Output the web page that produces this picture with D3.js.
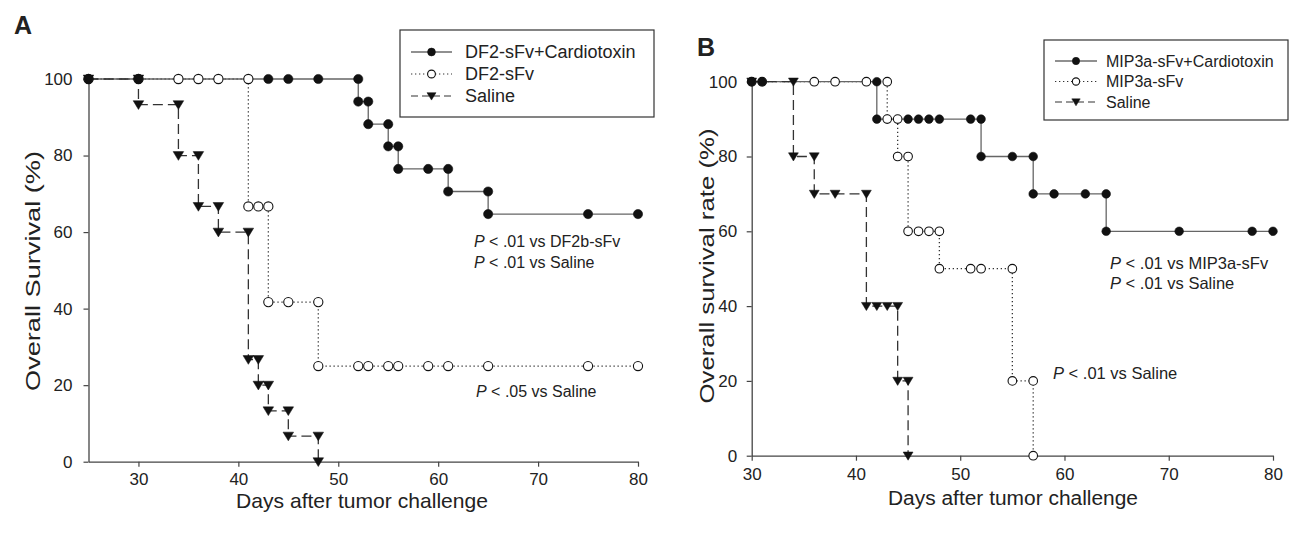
<!DOCTYPE html>
<html>
<head>
<meta charset="utf-8">
<script src="https://cdn.jsdelivr.net/npm/d3@7"></script>
<style>
  html, body { margin: 0; padding: 0; background: #fff; }
  svg { display: block; }
  text { font-family: "Liberation Sans", Arial, Helvetica, sans-serif; fill: #222; }
</style>
</head>
<body>
<svg id="chart" width="1291" height="534"></svg>
<script>
// ---------------- DATA ----------------
// Panel A: [day, survival %] marker points of each Kaplan–Meier step curve
const A_combo = [[25,100],[30,100],[43,100],[45,100],[48,100],[52,100],[52,94.1],[53,94.1],[53,88.2],[55,88.2],[55,82.4],[56,82.4],[56,76.5],[59,76.5],[61,76.5],[61,70.6],[65,70.6],[65,64.7],[75,64.7],[80,64.7]];
const A_sfv   = [[25,100],[30,100],[34,100],[36,100],[38,100],[41,100],[41,66.7],[42,66.7],[43,66.7],[43,41.7],[45,41.7],[48,41.7],[48,25],[52,25],[53,25],[55,25],[56,25],[59,25],[61,25],[65,25],[75,25],[80,25]];
const A_saline= [[25,100],[30,100],[30,93.3],[34,93.3],[34,80],[36,80],[36,66.7],[38,66.7],[38,60],[41,60],[41,26.7],[42,26.7],[42,20],[43,20],[43,13.3],[45,13.3],[45,6.7],[48,6.7],[48,0]];
// Panel B
const B_combo = [[30,100],[31,100],[42,100],[42,90],[45,90],[46,90],[47,90],[48,90],[51,90],[52,90],[52,80],[55,80],[57,80],[57,70],[59,70],[62,70],[64,70],[64,60],[71,60],[78,60],[80,60]];
const B_sfv   = [[30,100],[31,100],[36,100],[38,100],[41,100],[43,100],[43,90],[44,90],[44,80],[45,80],[45,60],[46,60],[47,60],[48,60],[48,50],[51,50],[52,50],[55,50],[55,20],[57,20],[57,0]];
const B_saline= [[30,100],[34,100],[34,80],[36,80],[36,70],[38,70],[41,70],[41,40],[42,40],[43,40],[44,40],[44,20],[45,20],[45,0]];

const xTicksA = [30,40,50,60,70,80];
const xTicksB = [30,40,50,60,70,80];
const yTicks  = [0,20,40,60,80,100];

const legendA = ["DF2-sFv+Cardiotoxin","DF2-sFv","Saline"];
const legendB = ["MIP3a-sFv+Cardiotoxin","MIP3a-sFv","Saline"];
const notesA = [["< .01 vs DF2b-sFv"],["< .01 vs Saline"],["< .05 vs Saline"]];
const notesB = [["< .01 vs MIP3a-sFv"],["< .01 vs Saline"],["< .01 vs Saline"]];

// ---------------- DRAW ----------------
const svg = d3.select("#chart");
const AXIS = "#444";

const styles = {
  combo:  {stroke:"#666", dash:null,   marker:"filled"},
  sfv:    {stroke:"#333", dash:"1.3,2.7", marker:"open"},
  saline: {stroke:"#333", dash:"10,5",  marker:"tri"}
};

function drawMarker(g, type, x, y, r) {
  if (type === "filled") {
    g.append("circle").attr("cx", x).attr("cy", y).attr("r", r).attr("fill", "#111").attr("stroke", "#111").attr("stroke-width", 0.6);
  } else if (type === "open") {
    g.append("circle").attr("cx", x).attr("cy", y).attr("r", r).attr("fill", "#fff").attr("stroke", "#111").attr("stroke-width", 1.1);
  } else {
    const w = r * 1.15, h = r * 1.9;
    g.append("path").attr("d", `M${x-w},${y-h*0.45} L${x+w},${y-h*0.45} L${x},${y+h*0.55} Z`).attr("fill", "#111").attr("stroke","#111").attr("stroke-width",0.5);
  }
}

function panel(cfg) {
  const {x, y, series, xTicks, label, labelPos, xTitle, xTitlePos, yTitle, yTitlePos, legend, notes, fs} = cfg;
  const g = svg.append("g");

  // axes
  const xa = g.append("g").attr("transform", `translate(0,${y(0)})`)
    .call(d3.axisBottom(x).tickValues(xTicks).tickSize(5).tickSizeOuter(0).tickPadding(cfg.xPad));
  const ya = g.append("g").attr("transform", `translate(${x.range()[0]},0)`)
    .call(d3.axisLeft(y).tickValues(yTicks).tickSize(5).tickSizeOuter(0).tickPadding(cfg.yPad));
  [xa, ya].forEach(a => {
    a.attr("font-size", fs.tick).attr("font-family", '"Liberation Sans", Arial, sans-serif');
    a.select(".domain").attr("stroke", AXIS).attr("stroke-width", 1.3);
    a.selectAll(".tick line").attr("stroke", AXIS).attr("stroke-width", 1.2);
    a.selectAll(".tick text").attr("font-size", fs.tick).attr("fill", "#222");
  });

  // lines
  const line = d3.line().x(d => x(d[0])).y(d => y(d[1]));
  const order = ["sfv", "combo", "saline"];
  order.forEach(k => {
    const st = styles[k];
    g.append("path").datum(series[k]).attr("d", line).attr("fill", "none")
      .attr("stroke", st.stroke).attr("stroke-width", 1.3)
      .attr("stroke-dasharray", st.dash);
  });
  order.forEach(k => {
    series[k].forEach(d => drawMarker(g, styles[k].marker, x(d[0]), y(d[1]), cfg.r));
  });

  // panel label
  g.append("text").attr("x", labelPos[0]).attr("y", labelPos[1]).text(label)
    .attr("font-size", 25).attr("font-weight", "bold").attr("fill", "#111");

  // axis titles
  g.append("text").attr("x", xTitlePos[0]).attr("y", xTitlePos[1]).attr("text-anchor", "middle")
    .attr("font-size", fs.title).attr("textLength", cfg.xTitleLen).attr("lengthAdjust","spacingAndGlyphs").text(xTitle);
  g.append("text").attr("transform", `translate(${yTitlePos[0]},${yTitlePos[1]}) rotate(-90)`)
    .attr("text-anchor", "middle").attr("font-size", fs.title)
    .attr("textLength", cfg.yTitleLen).attr("lengthAdjust","spacingAndGlyphs").text(yTitle);

  // legend
  const L = cfg.legendBox;
  g.append("rect").attr("x", L.x).attr("y", L.y).attr("width", L.w).attr("height", L.h)
    .attr("fill", "#fff").attr("stroke", "#333").attr("stroke-width", 1.2);
  ["combo", "sfv", "saline"].forEach((k, i) => {
    const yy = L.row0 + i * L.dy;
    const st = styles[k];
    g.append("line").attr("x1", L.lx0).attr("x2", L.lx1).attr("y1", yy).attr("y2", yy)
      .attr("stroke", k === "combo" ? "#222" : "#333").attr("stroke-width", 1.2)
      .attr("stroke-dasharray", k === "saline" ? "7,4" : st.dash);
    drawMarker(g, st.marker, (L.lx0 + L.lx1) / 2, yy, cfg.r * 0.85);
    g.append("text").attr("x", L.tx).attr("y", yy).attr("dy", "0.35em")
      .attr("font-size", fs.legend).text(legend[i]);
  });

  // notes
  cfg.notePos.forEach((p, i) => {
    const t = g.append("text").attr("x", p[0]).attr("y", p[1]).attr("dy", "0.35em").attr("font-size", fs.note);
    t.append("tspan").attr("font-style", "italic").text("P");
    t.append("tspan").text(" " + notes[i][0]);
  });
}

panel({
  x: d3.scaleLinear().domain([25, 80]).range([88.5, 638]),
  y: d3.scaleLinear().domain([0, 100]).range([461.7, 79]),
  series: {combo: A_combo, sfv: A_sfv, saline: A_saline},
  xTicks: xTicksA, xPad: 6, yPad: 11,
  r: 4.6,
  label: "A", labelPos: [14, 34],
  xTitle: "Days after tumor challenge", xTitlePos: [362, 508], xTitleLen: 252,
  yTitle: "Overall Survival (%)", yTitlePos: [40, 271], yTitleLen: 240,
  legend: legendA, notes: notesA,
  legendBox: {x: 400, y: 30, w: 254, h: 87, row0: 52, dy: 22, lx0: 411, lx1: 452, tx: 465},
  notePos: [[474, 241], [474, 262], [476, 391]],
  fs: {tick: 17, title: 21, legend: 18, note: 16}
});

panel({
  x: d3.scaleLinear().domain([30, 80]).range([751.7, 1273]),
  y: d3.scaleLinear().domain([0, 100]).range([455.7, 81.7]),
  series: {combo: B_combo, sfv: B_sfv, saline: B_saline},
  xTicks: xTicksB, xPad: 7, yPad: 9.5,
  r: 4.3,
  label: "B", labelPos: [697, 56],
  xTitle: "Days after tumor challenge", xTitlePos: [1013, 505], xTitleLen: 250,
  yTitle: "Overall survival rate (%)", yTitlePos: [714, 266], yTitleLen: 275,
  legend: legendB, notes: notesB,
  legendBox: {x: 1044, y: 40, w: 244, h: 80, row0: 61, dy: 20.5, lx0: 1055, lx1: 1097, tx: 1106},
  notePos: [[1110, 263], [1110, 283], [1053, 373]],
  fs: {tick: 17, title: 20, legend: 16, note: 16.5}
});
</script>
</body>
</html>
